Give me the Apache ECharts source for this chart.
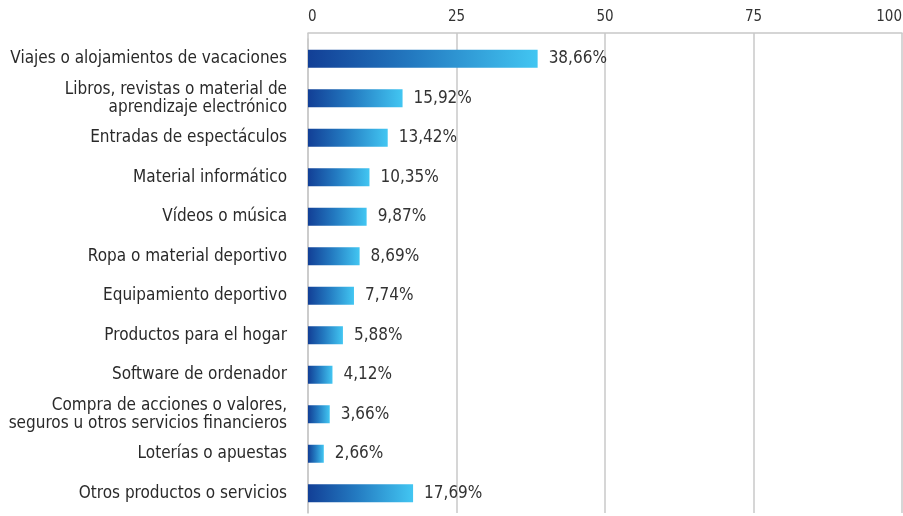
<!DOCTYPE html>
<html>
<head>
<meta charset="utf-8">
<script src="https://cdn.jsdelivr.net/npm/echarts@6/dist/echarts.min.js"></script>
<style>
  html, body { margin: 0; padding: 0; background: #fff; }
  #main { width: 903px; height: 516px; }
</style>
</head>
<body>
<div id="main"></div>
<script>
// categorias (de arriba a abajo)
var categories = [
  'Viajes o alojamientos de vacaciones',
  'Libros, revistas o material de\naprendizaje electrónico',
  'Entradas de espectáculos',
  'Material informático',
  'Vídeos o música',
  'Ropa o material deportivo',
  'Equipamiento deportivo',
  'Productos para el hogar',
  'Software de ordenador',
  'Compra de acciones o valores,\nseguros u otros servicios financieros',
  'Loterías o apuestas',
  'Otros productos o servicios'
];
var values = [38.66, 15.92, 13.42, 10.35, 9.87, 8.69, 7.74, 5.88, 4.12, 3.66, 2.66, 17.69];
var ticks = [0, 25, 50, 75, 100];

var font = '"DejaVu Sans Condensed", "Liberation Sans", sans-serif';

var myChart = echarts.init(document.getElementById('main'));

var option = {
  animation: false,
  backgroundColor: '#fff',
  grid: { left: 308, right: 1, top: 39, bottom: 3, containLabel: false, outerBoundsMode: 'none' },
  xAxis: {
    type: 'value',
    position: 'top',
    offset: 6,
    min: ticks[0],
    max: ticks[ticks.length - 1],
    interval: 25,
    axisLine: { show: true, lineStyle: { color: '#c8c8c8', width: 1.5 } },
    axisTick: { show: true, inside: true, length: 6, lineStyle: { color: '#c8c8c8', width: 1.5 } },
    axisLabel: {
      color: '#333', fontFamily: font, fontSize: 15, margin: 8,
      alignMinLabel: 'left', alignMaxLabel: 'right'
    },
    splitLine: { show: true, lineStyle: { color: '#c8c8c8', width: 1.5 } }
  },
  yAxis: {
    type: 'category',
    inverse: true,
    data: categories,
    axisLine: { show: true, lineStyle: { color: '#c8c8c8', width: 1.5 } },
    axisTick: { show: false },
    axisLabel: {
      color: '#2a2a2a',
      fontFamily: font,
      fontSize: 17,
      lineHeight: 18,
      padding: [4, 0, 0, 0],
      margin: 21,
      align: 'right'
    }
  },
  series: [{
    type: 'bar',
    data: values,
    barWidth: 18,
    itemStyle: {
      color: new echarts.graphic.LinearGradient(0, 0, 1, 0, [
        { offset: 0, color: '#123f96' },
        { offset: 0.45, color: '#2379c0' },
        { offset: 1, color: '#42c6f2' }
      ])
    },
    label: {
      show: true,
      position: 'right',
      distance: 11,
      color: '#333',
      fontFamily: font,
      fontSize: 17,
      padding: [3, 0, 0, 0],
      formatter: function (p) {
        return p.value.toFixed(2).replace('.', ',') + '%';
      }
    }
  }]
};

myChart.setOption(option);
</script>
</body>
</html>
